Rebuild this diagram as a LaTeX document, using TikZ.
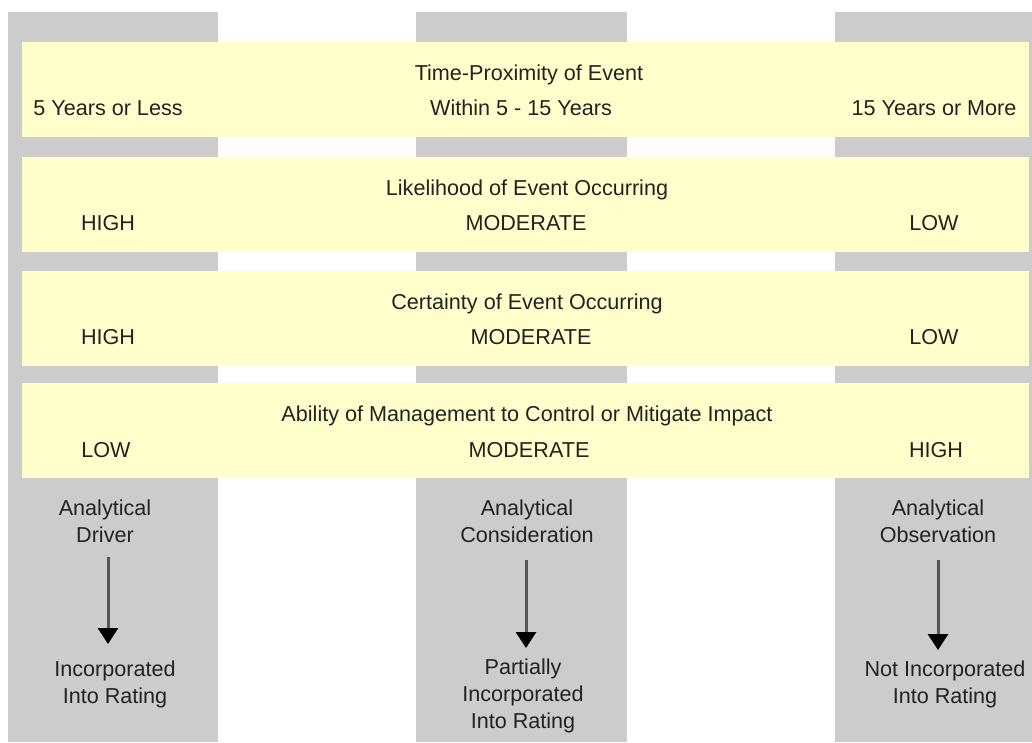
\documentclass[tikz,border=0pt]{standalone}
\usepackage{fontspec}
\setmainfont{Liberation Sans}
\usetikzlibrary{arrows.meta}
\definecolor{colgray}{HTML}{CCCCCC}
\definecolor{bandyellow}{HTML}{FFFFCC}
\definecolor{txt}{HTML}{222222}
\definecolor{arrline}{HTML}{555555}
\tikzset{
  column/.style={fill=colgray, draw=none},
  band/.style={fill=bandyellow, draw=none},
  lbl/.style={text=txt, font=\fontsize{21.6}{27}\selectfont, inner sep=0pt, align=center},
  downarrow/.style={draw=arrline, line width=3pt, -{Triangle[width=20pt,length=16pt,color=black]}}
}
\begin{document}
\begin{tikzpicture}[x=1pt,y=-1pt]
\useasboundingbox (0,0) rectangle (1032,742);
\fill[white] (0,0) rectangle (1032,742);
% columns
\path[column] (8,12) rectangle (218,742);
\path[column] (416,12) rectangle (627,742);
\path[column] (835,12) rectangle (1032,742);
% bands
\path[band] (22,42) rectangle (1029,137);
\path[band] (22,157) rectangle (1029,252);
\path[band] (22,271) rectangle (1029,366);
\path[band] (22,383) rectangle (1029,478);
% band 1
\node[lbl] (t1) at (529,75) {Time-Proximity of Event};
\node[lbl] (l1) at (108,108) {5 Years or Less};
\node[lbl] (m1) at (521,108) {Within 5 - 15 Years};
\node[lbl] (r1) at (934,108) {15 Years or More};
% band 2
\node[lbl] (t2) at (527,190) {Likelihood of Event Occurring};
\node[lbl] (l2) at (108,223) {HIGH};
\node[lbl] (m2) at (526,223) {MODERATE};
\node[lbl] (r2) at (934,223) {LOW};
% band 3
\node[lbl] (t3) at (527,304) {Certainty of Event Occurring};
\node[lbl] (l3) at (108,337) {HIGH};
\node[lbl] (m3) at (531,337) {MODERATE};
\node[lbl] (r3) at (934,337) {LOW};
% band 4
\node[lbl] (t4) at (527,416) {Ability of Management to Control or Mitigate Impact};
\node[lbl] (l4) at (106,450) {LOW};
\node[lbl] (m4) at (529,450) {MODERATE};
\node[lbl] (r4) at (936,450) {HIGH};
% bottom texts
\node[lbl] (ad) at (105,521) {Analytical\\Driver};
\node[lbl] (ac) at (527,521) {Analytical\\Consideration};
\node[lbl] (ao) at (938,521) {Analytical\\Observation};
\node[lbl] (ir) at (115,684) {Incorporated\\Into Rating};
\node[lbl] (pir) at (523,696) {Partially\\Incorporated\\Into Rating};
\node[lbl] (nir) at (945,684) {Not Incorporated\\Into Rating};
% arrows
\coordinate (as1) at (108,557);
\coordinate (ae1) at (108,644);
\coordinate (as2) at (526,560);
\coordinate (ae2) at (526,648);
\coordinate (as3) at (938,560);
\coordinate (ae3) at (938,650);
\draw[downarrow] (as1) -- (ae1);
\draw[downarrow] (as2) -- (ae2);
\draw[downarrow] (as3) -- (ae3);
\end{tikzpicture}
\end{document}
